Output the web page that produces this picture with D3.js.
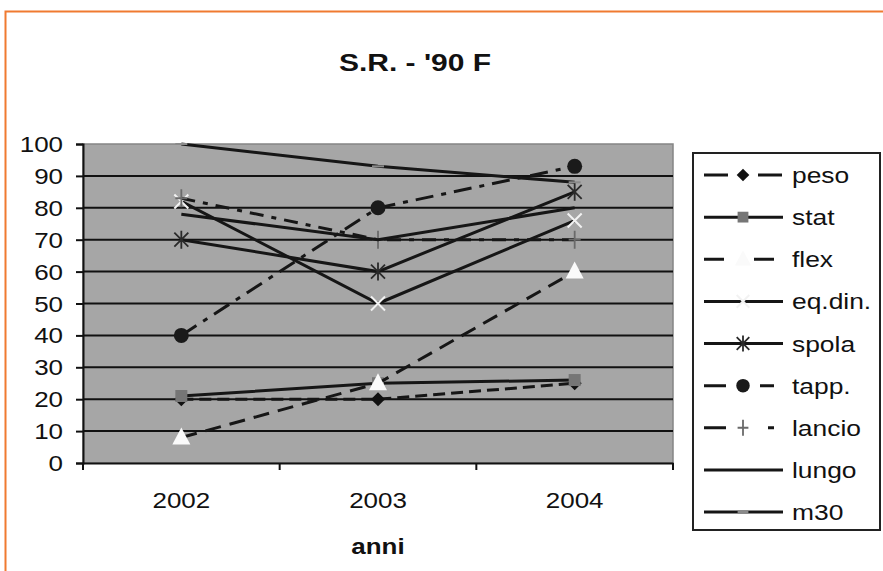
<!DOCTYPE html>
<html>
<head>
<meta charset="utf-8">
<script src="https://cdn.jsdelivr.net/npm/d3@7"></script>
<style>
  body { margin: 0; background: #fff; }
  text { font-family: "Liberation Sans", Arial, sans-serif; fill: #111; }
</style>
</head>
<body>
<div id="chart"></div>
<script>
// data
const years = ["2002", "2003", "2004"];
const yTicks = [0, 10, 20, 30, 40, 50, 60, 70, 80, 90, 100];
const peso = [20, 20, 25];
const stat = [21, 25, 26];
const flex = [8, 25, 60];
const eqDin = [82, 50, 76];
const spola = [70, 60, 85];
const tapp = [40, 80, 93];
const lancio = [83, 70, 70];
const lungo = [78, 70, 80];
const m30 = [100, 93, 88];

const series = [
  { name: "peso", values: peso, dash: "12,6", legDash: "24,30", marker: "diamond" },
  { name: "stat", values: stat, dash: null, legDash: null, marker: "square" },
  { name: "flex", values: flex, dash: "16,9", legDash: "20,30", marker: "triangle" },
  { name: "eq.din.", values: eqDin, dash: null, legDash: null, marker: "x" },
  { name: "spola", values: spola, dash: null, legDash: null, marker: "asterisk" },
  { name: "tapp.", values: tapp, dash: "18,8,5,8", legDash: "22,34,14,30", marker: "circle" },
  { name: "lancio", values: lancio, dash: "14,8,5,8", legDash: "22,42,6,30", marker: "plus" },
  { name: "lungo", values: lungo, dash: null, legDash: null, marker: null },
  { name: "m30", values: m30, dash: null, legDash: null, marker: "dash" }
];

const W = 883, H = 571;
const plot = { left: 83, right: 673, top: 144, bottom: 463 };

const svg = d3.select("#chart").append("svg")
  .attr("width", W).attr("height", H);

// orange frame
svg.append("path")
  .attr("d", `M5.5,${H} V11.5 H${W}`)
  .attr("fill", "none").attr("stroke", "#f07a30").attr("stroke-width", 2);

// the picture's text is stretched sideways
function label(x, y, str, anchor, size, weight, sx) {
  return svg.append("text")
    .attr("transform", `translate(${x},${y}) scale(${sx || 1.18},1)`)
    .attr("text-anchor", anchor)
    .attr("font-size", size)
    .attr("font-weight", weight || "normal")
    .text(str);
}

label(415, 71, "S.R. - '90 F", "middle", 24, "bold", 1.25);

const x = d3.scaleBand().domain(years).range([plot.left, plot.right]);
const y = d3.scaleLinear().domain([0, 100]).range([plot.bottom, plot.top]);
const cx = d => x(d) + x.bandwidth() / 2;

// plot area
svg.append("rect")
  .attr("x", plot.left).attr("y", plot.top)
  .attr("width", plot.right - plot.left).attr("height", plot.bottom - plot.top)
  .attr("fill", "#a6a6a6").attr("stroke", "#858585").attr("stroke-width", 1.5);

// gridlines
svg.append("g").selectAll("line")
  .data(yTicks.filter(t => t > 0 && t < 100))
  .join("line")
  .attr("x1", plot.left).attr("x2", plot.right)
  .attr("y1", d => y(d)).attr("y2", d => y(d))
  .attr("stroke", "#111").attr("stroke-width", 2);

// y axis
const yAxis = svg.append("g")
  .attr("transform", `translate(${plot.left},0)`)
  .call(d3.axisLeft(y).tickValues(yTicks).tickSize(7).tickPadding(0).tickFormat(() => ""));
yAxis.select(".domain").attr("stroke", "#111").attr("stroke-width", 2);
yAxis.selectAll(".tick line").attr("stroke", "#111").attr("stroke-width", 2);
yTicks.forEach(t => label(63, y(t) + 8, String(t), "end", 22));

// x axis
const xAxis = svg.append("g")
  .attr("transform", `translate(0,${plot.bottom})`)
  .call(d3.axisBottom(x).tickSize(0).tickFormat(() => ""));
xAxis.select(".domain").attr("stroke", "#111").attr("stroke-width", 2);
const bounds = years.map(d => x(d)).concat([plot.right]);
svg.append("g").selectAll("line").data(bounds).join("line")
  .attr("x1", d => d).attr("x2", d => d)
  .attr("y1", plot.bottom).attr("y2", plot.bottom + 7)
  .attr("stroke", "#111").attr("stroke-width", 2);
years.forEach(yr => label(cx(yr), 508, yr, "middle", 22));
label(cx(years[1]), 554, "anni", "middle", 22, "bold");

// markers
function drawMarker(g, kind, px, py, k) {
  k = k || 1;
  if (kind === "diamond") {
    const r = 7 * k;
    g.append("path").attr("d", `M${px},${py - r}L${px + r},${py}L${px},${py + r}L${px - r},${py}Z`)
      .attr("fill", "#111");
  } else if (kind === "square") {
    const r = 6 * k;
    g.append("rect").attr("x", px - r).attr("y", py - r).attr("width", 2 * r).attr("height", 2 * r)
      .attr("fill", "#767676");
  } else if (kind === "triangle") {
    g.append("path").attr("d", `M${px},${py - 10 * k}L${px + 9 * k},${py + 7 * k}L${px - 9 * k},${py + 7 * k}Z`)
      .attr("fill", "#fafafa");
  } else if (kind === "x") {
    const r = 7 * k;
    g.append("path").attr("d", `M${px - r},${py - r}L${px + r},${py + r}M${px + r},${py - r}L${px - r},${py + r}`)
      .attr("stroke", "#f2f2f2").attr("stroke-width", 2);
  } else if (kind === "asterisk") {
    const r = 7 * k;
    g.append("path").attr("d", `M${px - r},${py - r}L${px + r},${py + r}M${px + r},${py - r}L${px - r},${py + r}M${px},${py - 9 * k}L${px},${py + 9 * k}`)
      .attr("stroke", "#2a2a2a").attr("stroke-width", 1.8);
  } else if (kind === "circle") {
    g.append("circle").attr("cx", px).attr("cy", py).attr("r", 7.5 * k).attr("fill", "#1a1a1a");
  } else if (kind === "plus") {
    g.append("path").attr("d", `M${px - 6 * k},${py}L${px + 6 * k},${py}M${px},${py - 9 * k}L${px},${py + 9 * k}`)
      .attr("stroke", "#6a6a6a").attr("stroke-width", 1.8);
  } else if (kind === "dash") {
    g.append("path").attr("d", `M${px - 6 * k},${py}L${px + 6 * k},${py}`)
      .attr("stroke", "#8a8a8a").attr("stroke-width", 2);
  }
}

const line = d3.line().x(d => cx(d.year)).y(d => y(d.v));

series.forEach(s => {
  const g = svg.append("g");
  const pts = years.map((yr, i) => ({ year: yr, v: s.values[i] }));
  g.append("path")
    .attr("d", line(pts))
    .attr("fill", "none").attr("stroke", "#161616").attr("stroke-width", 3)
    .attr("stroke-dasharray", s.dash);
  if (s.marker) pts.forEach(p => drawMarker(g, s.marker, cx(p.year), y(p.v)));
});

// legend
const leg = { x: 693, y: 153, w: 187, h: 377 };
svg.append("rect")
  .attr("x", leg.x).attr("y", leg.y).attr("width", leg.w).attr("height", leg.h)
  .attr("fill", "#fff").attr("stroke", "#222").attr("stroke-width", 2);

const rowY = d3.scalePoint().domain(series.map(s => s.name)).range([175, 512]);
series.forEach(s => {
  const ry = rowY(s.name);
  const g = svg.append("g");
  g.append("line")
    .attr("x1", 704).attr("x2", 783).attr("y1", ry).attr("y2", ry)
    .attr("stroke", "#161616").attr("stroke-width", 3)
    .attr("stroke-dasharray", s.legDash);
  if (s.marker) drawMarker(g, s.marker, 743, ry, 0.9);
  label(792, ry + 8, s.name, "start", 22, "normal", 1.2);
});
</script>
</body>
</html>
